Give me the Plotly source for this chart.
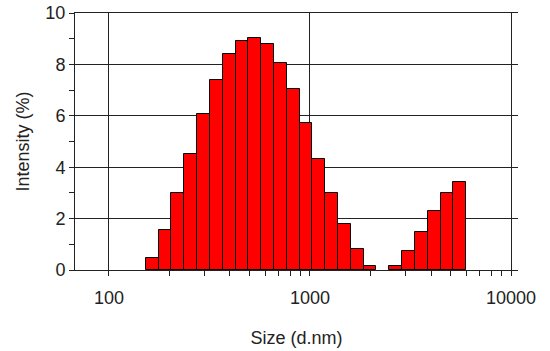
import numpy as np
import plotly.graph_objects as go

# Size bins (d.nm) and intensity (%)
sizes = [164.2, 190.1, 220.2, 255.0, 295.3, 342.0, 396.1, 458.7, 531.2,
         615.1, 712.4, 825.0, 955.4, 1106, 1281, 1484, 1718, 1990, 2305,
         2669, 3091, 3580, 4145, 4801, 5560]
intensity = [0.47, 1.56, 2.98, 4.51, 6.06, 7.38, 8.42, 8.91, 9.03,
             8.81, 8.07, 7.03, 5.72, 4.33, 2.98, 1.78, 0.82, 0.17, 0.0,
             0.17, 0.74, 1.49, 2.30, 2.98, 3.42]

x_tick_values = [100, 1000, 10000]
x_tick_labels = ["100", "1000", "10000"]
x_minor_values = [200, 300, 400, 500, 600, 700, 800, 900,
                  2000, 3000, 4000, 5000, 6000, 7000, 8000, 9000]
y_tick_values = [0, 2, 4, 6, 8, 10]
y_minor_values = [1, 3, 5, 7, 9]

logx = np.log10(sizes)
step = float(np.mean(np.diff(logx)))
line_w = [1 if v > 0 else 0 for v in intensity]

fig = go.Figure()
fig.add_trace(go.Bar(
    x=logx, y=intensity, width=step,
    marker=dict(color="#FF0000", line=dict(color="black", width=line_w)),
    showlegend=False, hoverinfo="skip",
))

font = dict(family="Liberation Sans, Arial, sans-serif", size=18, color="#222")

fig.update_layout(
    width=550, height=351,
    margin=dict(l=75, r=32, t=13, b=81),
    paper_bgcolor="white", plot_bgcolor="white",
    font=font,
    bargap=0,
    xaxis=dict(
        range=[1.8313, 4.0347],
        tickmode="array", tickvals=np.log10(x_tick_values), ticktext=x_tick_labels,
        showgrid=True, gridcolor="#222", gridwidth=1,
        ticks="outside", ticklen=5, tickcolor="#222",
        ticklabelstandoff=6, ticklabeloverflow="allow",
        minor=dict(tickmode="array", tickvals=np.log10(x_minor_values),
                   ticks="outside", ticklen=5, tickcolor="#222", showgrid=False),
        showline=True, linecolor="#222", linewidth=1, mirror=True,
        zeroline=False, automargin=False,
        title=dict(text="Size (d.nm)", standoff=24, font=font),
    ),
    yaxis=dict(
        range=[0, 10],
        tickmode="array", tickvals=y_tick_values,
        showgrid=True, gridcolor="#222", gridwidth=1,
        ticks="outside", ticklen=5, tickcolor="#222",
        ticklabeloverflow="allow",
        minor=dict(tickmode="array", tickvals=y_minor_values,
                   ticks="outside", ticklen=5, tickcolor="#222", showgrid=False),
        showline=True, linecolor="#222", linewidth=1,
        zeroline=False, automargin=False,
        title=dict(text="Intensity (%)", standoff=11, font=font),
    ),
    yaxis2=dict(
        overlaying="y", anchor="x", side="left", range=[0, 10],
        tickmode="array", tickvals=y_minor_values,
        ticks="inside", ticklen=3, tickcolor="#222",
        showticklabels=False, showgrid=False, zeroline=False, showline=False,
    ),
)

fig.write_html("out.html", config={"displayModeBar": False},
               post_script="document.body.style.margin='0';")
